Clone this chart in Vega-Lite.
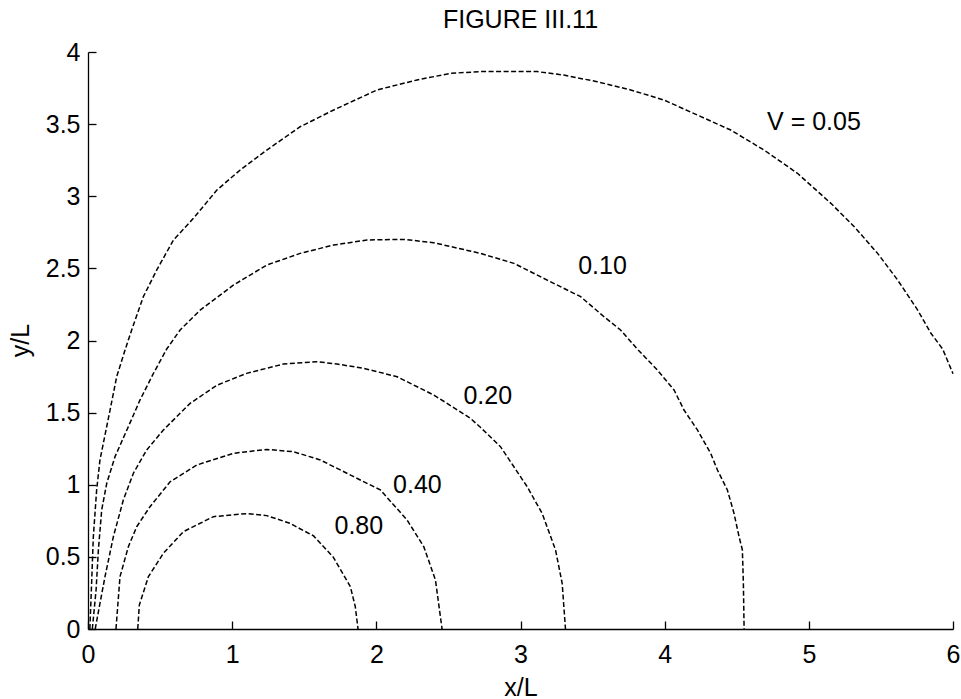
{
  "$schema": "https://vega.github.io/schema/vega-lite/v6.json",
  "width": 865,
  "height": 577,
  "autosize": {"type": "none"},
  "padding": {"left": 88, "top": 52, "right": 8, "bottom": 70},
  "background": "white",
  "config": {"view": {"stroke": null}, "font": "Liberation Sans"},
  "title": {"text": "FIGURE III.11", "fontSize": 25, "fontWeight": "normal", "font": "Liberation Sans", "color": "black", "offset": 7, "frame": "group", "anchor": "middle"},
  "datasets": {
    "curves": [
      {"V": "0.05", "i": 0, "x": 0.013, "y": 0},
      {"V": "0.05", "i": 1, "x": 0.025, "y": 0.317},
      {"V": "0.05", "i": 2, "x": 0.037, "y": 0.64},
      {"V": "0.05", "i": 3, "x": 0.06, "y": 0.964},
      {"V": "0.05", "i": 4, "x": 0.083, "y": 1.172},
      {"V": "0.05", "i": 5, "x": 0.153, "y": 1.518},
      {"V": "0.05", "i": 6, "x": 0.199, "y": 1.749},
      {"V": "0.05", "i": 7, "x": 0.257, "y": 1.934},
      {"V": "0.05", "i": 8, "x": 0.303, "y": 2.073},
      {"V": "0.05", "i": 9, "x": 0.384, "y": 2.304},
      {"V": "0.05", "i": 10, "x": 0.477, "y": 2.489},
      {"V": "0.05", "i": 11, "x": 0.593, "y": 2.697},
      {"V": "0.05", "i": 12, "x": 0.731, "y": 2.847},
      {"V": "0.05", "i": 13, "x": 0.894, "y": 3.043},
      {"V": "0.05", "i": 14, "x": 1.056, "y": 3.182},
      {"V": "0.05", "i": 15, "x": 1.24, "y": 3.32},
      {"V": "0.05", "i": 16, "x": 1.472, "y": 3.482},
      {"V": "0.05", "i": 17, "x": 1.704, "y": 3.598},
      {"V": "0.05", "i": 18, "x": 2.005, "y": 3.737},
      {"V": "0.05", "i": 19, "x": 2.282, "y": 3.806},
      {"V": "0.05", "i": 20, "x": 2.514, "y": 3.852},
      {"V": "0.05", "i": 21, "x": 2.722, "y": 3.864},
      {"V": "0.05", "i": 22, "x": 3.116, "y": 3.864},
      {"V": "0.05", "i": 23, "x": 3.3, "y": 3.84},
      {"V": "0.05", "i": 24, "x": 3.532, "y": 3.794},
      {"V": "0.05", "i": 25, "x": 3.764, "y": 3.737},
      {"V": "0.05", "i": 26, "x": 3.995, "y": 3.667},
      {"V": "0.05", "i": 27, "x": 4.227, "y": 3.563},
      {"V": "0.05", "i": 28, "x": 4.458, "y": 3.459},
      {"V": "0.05", "i": 29, "x": 4.69, "y": 3.32},
      {"V": "0.05", "i": 30, "x": 4.921, "y": 3.159},
      {"V": "0.05", "i": 31, "x": 5.153, "y": 2.951},
      {"V": "0.05", "i": 32, "x": 5.315, "y": 2.789},
      {"V": "0.05", "i": 33, "x": 5.477, "y": 2.604},
      {"V": "0.05", "i": 34, "x": 5.616, "y": 2.419},
      {"V": "0.05", "i": 35, "x": 5.755, "y": 2.211},
      {"V": "0.05", "i": 36, "x": 5.847, "y": 2.05},
      {"V": "0.05", "i": 37, "x": 5.928, "y": 1.941},
      {"V": "0.05", "i": 38, "x": 6.0, "y": 1.77},
      {"V": "0.10", "i": 0, "x": 0.03, "y": 0},
      {"V": "0.10", "i": 1, "x": 0.056, "y": 0.27},
      {"V": "0.10", "i": 2, "x": 0.072, "y": 0.548},
      {"V": "0.10", "i": 3, "x": 0.095, "y": 0.825},
      {"V": "0.10", "i": 4, "x": 0.13, "y": 1.01},
      {"V": "0.10", "i": 5, "x": 0.1875, "y": 1.195},
      {"V": "0.10", "i": 6, "x": 0.28, "y": 1.403},
      {"V": "0.10", "i": 7, "x": 0.361, "y": 1.588},
      {"V": "0.10", "i": 8, "x": 0.454, "y": 1.772},
      {"V": "0.10", "i": 9, "x": 0.546, "y": 1.941},
      {"V": "0.10", "i": 10, "x": 0.639, "y": 2.073},
      {"V": "0.10", "i": 11, "x": 0.778, "y": 2.211},
      {"V": "0.10", "i": 12, "x": 1.01, "y": 2.385},
      {"V": "0.10", "i": 13, "x": 1.24, "y": 2.523},
      {"V": "0.10", "i": 14, "x": 1.472, "y": 2.604},
      {"V": "0.10", "i": 15, "x": 1.704, "y": 2.662},
      {"V": "0.10", "i": 16, "x": 1.935, "y": 2.697},
      {"V": "0.10", "i": 17, "x": 2.19, "y": 2.701},
      {"V": "0.10", "i": 18, "x": 2.398, "y": 2.678},
      {"V": "0.10", "i": 19, "x": 2.722, "y": 2.604},
      {"V": "0.10", "i": 20, "x": 2.954, "y": 2.535},
      {"V": "0.10", "i": 21, "x": 3.185, "y": 2.419},
      {"V": "0.10", "i": 22, "x": 3.417, "y": 2.304},
      {"V": "0.10", "i": 23, "x": 3.579, "y": 2.165},
      {"V": "0.10", "i": 24, "x": 3.694, "y": 2.073},
      {"V": "0.10", "i": 25, "x": 3.81, "y": 1.941},
      {"V": "0.10", "i": 26, "x": 3.949, "y": 1.796},
      {"V": "0.10", "i": 27, "x": 4.065, "y": 1.657},
      {"V": "0.10", "i": 28, "x": 4.134, "y": 1.518},
      {"V": "0.10", "i": 29, "x": 4.227, "y": 1.38},
      {"V": "0.10", "i": 30, "x": 4.319, "y": 1.218},
      {"V": "0.10", "i": 31, "x": 4.366, "y": 1.102},
      {"V": "0.10", "i": 32, "x": 4.435, "y": 0.964},
      {"V": "0.10", "i": 33, "x": 4.481, "y": 0.802},
      {"V": "0.10", "i": 34, "x": 4.516, "y": 0.64},
      {"V": "0.10", "i": 35, "x": 4.539, "y": 0.548},
      {"V": "0.10", "i": 36, "x": 4.546, "y": 0.317},
      {"V": "0.10", "i": 37, "x": 4.551, "y": 0},
      {"V": "0.20", "i": 0, "x": 0.05, "y": 0},
      {"V": "0.20", "i": 1, "x": 0.083, "y": 0.178},
      {"V": "0.20", "i": 2, "x": 0.118, "y": 0.363},
      {"V": "0.20", "i": 3, "x": 0.176, "y": 0.64},
      {"V": "0.20", "i": 4, "x": 0.245, "y": 0.894},
      {"V": "0.20", "i": 5, "x": 0.315, "y": 1.08},
      {"V": "0.20", "i": 6, "x": 0.407, "y": 1.241},
      {"V": "0.20", "i": 7, "x": 0.523, "y": 1.38},
      {"V": "0.20", "i": 8, "x": 0.708, "y": 1.564},
      {"V": "0.20", "i": 9, "x": 0.894, "y": 1.69},
      {"V": "0.20", "i": 10, "x": 1.1, "y": 1.772},
      {"V": "0.20", "i": 11, "x": 1.356, "y": 1.837},
      {"V": "0.20", "i": 12, "x": 1.588, "y": 1.853},
      {"V": "0.20", "i": 13, "x": 1.727, "y": 1.837},
      {"V": "0.20", "i": 14, "x": 1.912, "y": 1.807},
      {"V": "0.20", "i": 15, "x": 2.144, "y": 1.749},
      {"V": "0.20", "i": 16, "x": 2.236, "y": 1.703},
      {"V": "0.20", "i": 17, "x": 2.398, "y": 1.622},
      {"V": "0.20", "i": 18, "x": 2.491, "y": 1.564},
      {"V": "0.20", "i": 19, "x": 2.653, "y": 1.46},
      {"V": "0.20", "i": 20, "x": 2.72, "y": 1.4},
      {"V": "0.20", "i": 21, "x": 2.861, "y": 1.264},
      {"V": "0.20", "i": 22, "x": 2.954, "y": 1.125},
      {"V": "0.20", "i": 23, "x": 3.046, "y": 0.987},
      {"V": "0.20", "i": 24, "x": 3.15, "y": 0.802},
      {"V": "0.20", "i": 25, "x": 3.243, "y": 0.548},
      {"V": "0.20", "i": 26, "x": 3.289, "y": 0.317},
      {"V": "0.20", "i": 27, "x": 3.312, "y": 0},
      {"V": "0.40", "i": 0, "x": 0.194, "y": 0},
      {"V": "0.40", "i": 1, "x": 0.222, "y": 0.363},
      {"V": "0.40", "i": 2, "x": 0.28, "y": 0.571},
      {"V": "0.40", "i": 3, "x": 0.338, "y": 0.709},
      {"V": "0.40", "i": 4, "x": 0.43, "y": 0.848},
      {"V": "0.40", "i": 5, "x": 0.569, "y": 1.02},
      {"V": "0.40", "i": 6, "x": 0.755, "y": 1.137},
      {"V": "0.40", "i": 7, "x": 1.01, "y": 1.218},
      {"V": "0.40", "i": 8, "x": 1.24, "y": 1.245},
      {"V": "0.40", "i": 9, "x": 1.426, "y": 1.229},
      {"V": "0.40", "i": 10, "x": 1.611, "y": 1.172},
      {"V": "0.40", "i": 11, "x": 1.843, "y": 1.056},
      {"V": "0.40", "i": 12, "x": 2.028, "y": 0.964},
      {"V": "0.40", "i": 13, "x": 2.213, "y": 0.756},
      {"V": "0.40", "i": 14, "x": 2.329, "y": 0.571},
      {"V": "0.40", "i": 15, "x": 2.41, "y": 0.34},
      {"V": "0.40", "i": 16, "x": 2.456, "y": 0},
      {"V": "0.80", "i": 0, "x": 0.345, "y": 0},
      {"V": "0.80", "i": 1, "x": 0.356, "y": 0.166},
      {"V": "0.80", "i": 2, "x": 0.419, "y": 0.363},
      {"V": "0.80", "i": 3, "x": 0.523, "y": 0.525},
      {"V": "0.80", "i": 4, "x": 0.662, "y": 0.675},
      {"V": "0.80", "i": 5, "x": 0.87, "y": 0.779},
      {"V": "0.80", "i": 6, "x": 1.1, "y": 0.8},
      {"V": "0.80", "i": 7, "x": 1.24, "y": 0.786},
      {"V": "0.80", "i": 8, "x": 1.4, "y": 0.733},
      {"V": "0.80", "i": 9, "x": 1.565, "y": 0.645},
      {"V": "0.80", "i": 10, "x": 1.7, "y": 0.5},
      {"V": "0.80", "i": 11, "x": 1.82, "y": 0.293},
      {"V": "0.80", "i": 12, "x": 1.854, "y": 0.155},
      {"V": "0.80", "i": 13, "x": 1.873, "y": 0}
    ],
    "labels": [
      {"label": "V = 0.05", "x": 4.71, "y": 3.515},
      {"label": "0.10", "x": 3.4, "y": 2.513},
      {"label": "0.20", "x": 2.604, "y": 1.615},
      {"label": "0.40", "x": 2.116, "y": 0.996},
      {"label": "0.80", "x": 1.71, "y": 0.713}
    ]
  },
  "layer": [
    {
      "data": {"name": "curves"},
      "mark": {"type": "line", "strokeDash": [5, 2.5], "strokeWidth": 1.5, "color": "black"},
      "encoding": {
        "x": {
          "field": "x", "type": "quantitative",
          "scale": {"domain": [0, 6], "nice": false, "zero": false},
          "axis": {
            "title": "x/L", "values": [0, 1, 2, 3, 4, 5, 6], "format": "~g",
            "grid": false, "tickSize": -8, "tickWidth": 1.3, "tickColor": "black",
            "domainColor": "black", "domainWidth": 1.3,
            "labelFontSize": 25, "labelColor": "black", "labelFont": "Liberation Sans",
            "labelPadding": 21, "labelFlush": false, "labelOverlap": false, "labelBaseline": "top",
            "titleFontSize": 25, "titleFontWeight": "normal", "titleColor": "black", "titleFont": "Liberation Sans",
            "titleBaseline": "alphabetic", "titleY": 66
          }
        },
        "y": {
          "field": "y", "type": "quantitative",
          "scale": {"domain": [0, 4], "nice": false, "zero": false},
          "axis": {
            "title": "y/L", "values": [0, 0.5, 1, 1.5, 2, 2.5, 3, 3.5, 4], "format": "~g",
            "grid": false, "tickSize": -8, "tickWidth": 1.3, "tickColor": "black",
            "domainColor": "black", "domainWidth": 1.3,
            "labelFontSize": 25, "labelColor": "black", "labelFont": "Liberation Sans",
            "labelPadding": 16, "labelFlush": false, "labelOverlap": false,
            "titleFontSize": 25, "titleFontWeight": "normal", "titleColor": "black", "titleFont": "Liberation Sans",
            "titleBaseline": "alphabetic", "titleX": -60, "titleY": 288
          }
        },
        "detail": {"field": "V"},
        "order": {"field": "i", "type": "quantitative"}
      }
    },
    {
      "data": {"name": "labels"},
      "mark": {"type": "text", "align": "left", "baseline": "middle", "fontSize": 25, "font": "Liberation Sans", "color": "black"},
      "encoding": {
        "x": {"field": "x", "type": "quantitative"},
        "y": {"field": "y", "type": "quantitative"},
        "text": {"field": "label"}
      }
    }
  ]
}
